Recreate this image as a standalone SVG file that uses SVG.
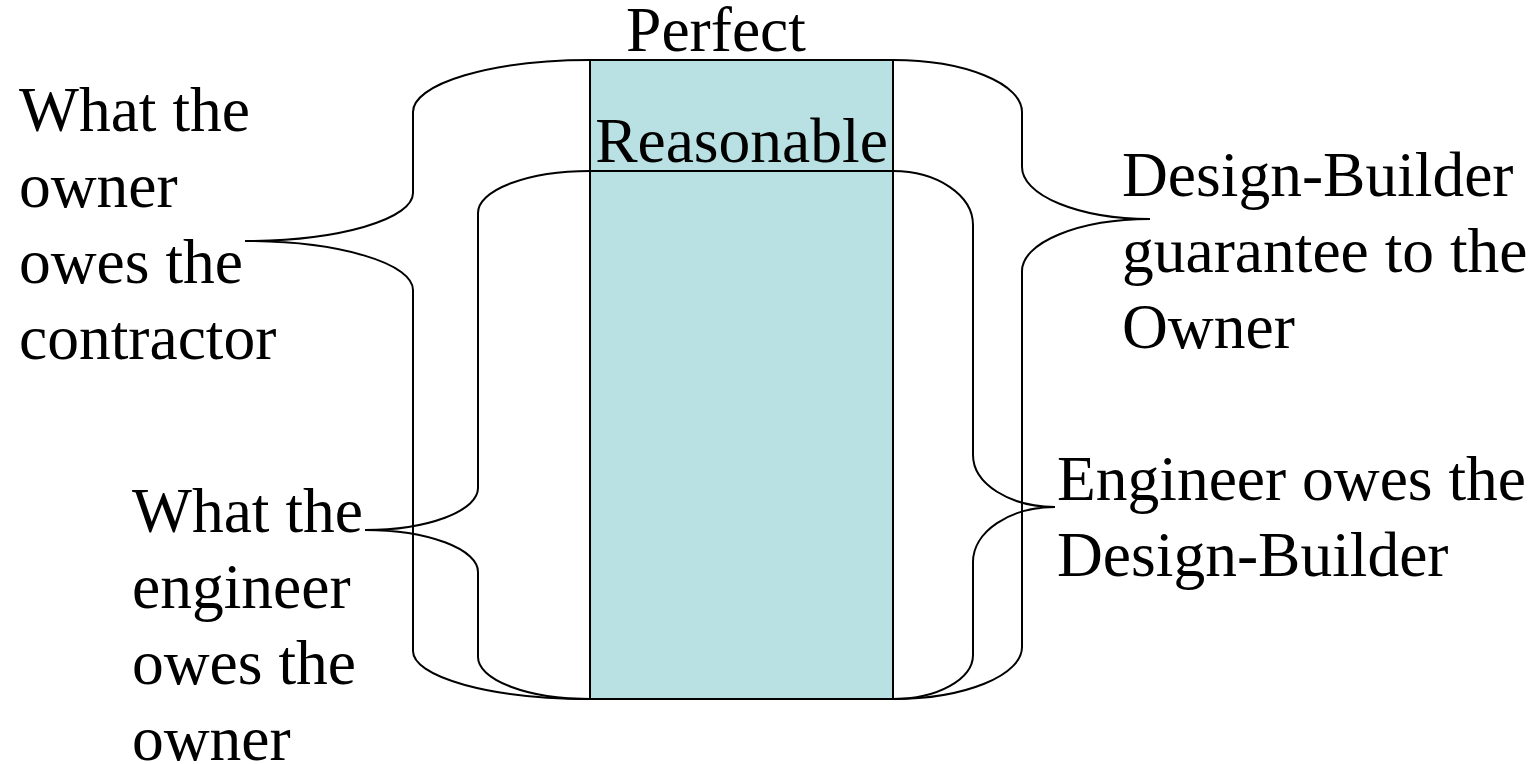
<svg xmlns="http://www.w3.org/2000/svg" width="1539" height="764" viewBox="0 0 1539 764">
<style>
.t{font-family:"Liberation Serif","Times New Roman",serif;font-size:63.5px;fill:#000}
.b{fill:none;stroke:#000;stroke-width:2}
</style>
<rect x="0" y="0" width="1539" height="764" fill="#fff"/>
<g id="band">
<rect x="590" y="60" width="303" height="639" fill="#B9E0E3" stroke="#000" stroke-width="2"/>
<line x1="590" y1="171" x2="893" y2="171" stroke="#000" stroke-width="2"/>
<text class="t" x="741.5" y="162" text-anchor="middle">Reasonable</text>
</g>
<g id="perfect"><text class="t" x="716" y="51" text-anchor="middle">Perfect</text></g>
<g id="connectors">
<path class="b" d="M590,60 A177,52 0 0 0 413,112 L413,193 A168,48 0 0 1 245,241 A168,49 0 0 1 413,290 L413,651 A177,48 0 0 0 590,699"/>
<path class="b" d="M590,171 A112,42 0 0 0 478,213 L478,488 A113,42 0 0 1 365,530 A113,42 0 0 1 478,572 L478,657 A112,42 0 0 0 590,699"/>
<path class="b" d="M893,60 A129,52 0 0 1 1022,112 L1022,167 A128,52 0 0 0 1150,219 A128,52 0 0 0 1022,271 L1022,647 A129,52 0 0 1 893,699"/>
<path class="b" d="M893,171 A80,54 0 0 1 973,225 L973,455 A82,52 0 0 0 1055,507 A82,55 0 0 0 973,562 L973,655 A80,44 0 0 1 893,699"/>
</g>
<g id="owner-contractor">
<text class="t" x="19" y="131">What the</text>
<text class="t" x="19" y="207">owner</text>
<text class="t" x="19" y="283">owes the</text>
<text class="t" x="19" y="359">contractor</text>
</g>
<g id="engineer-owner">
<text class="t" x="132" y="532">What the</text>
<text class="t" x="132" y="608">engineer</text>
<text class="t" x="132" y="684">owes the</text>
<text class="t" x="132" y="760">owner</text>
</g>
<g id="db-guarantee">
<text class="t" x="1122" y="196">Design-Builder</text>
<text class="t" x="1122" y="272">guarantee to the</text>
<text class="t" x="1122" y="348">Owner</text>
</g>
<g id="engineer-db">
<text class="t" x="1057" y="500">Engineer owes the</text>
<text class="t" x="1057" y="576">Design-Builder</text>
</g>
</svg>
